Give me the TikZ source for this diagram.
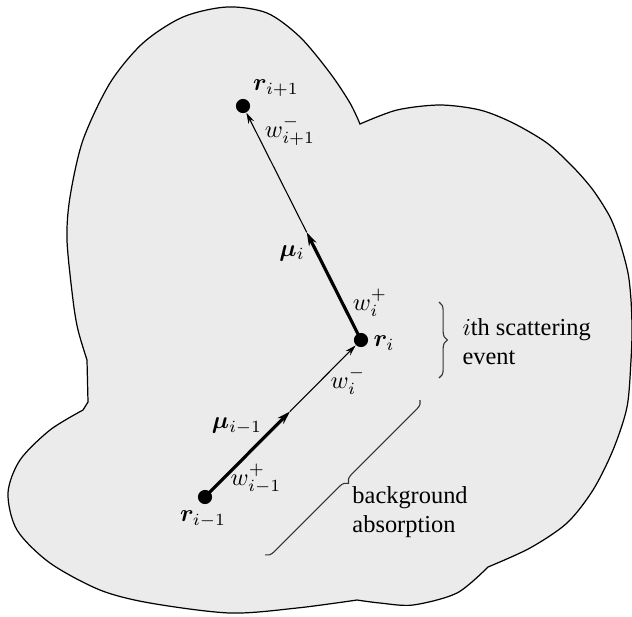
\documentclass[tikz,border=0pt]{standalone}
\usepackage{bm}
\usepackage{fontspec}
\setmainfont{Liberation Serif}
\usetikzlibrary{arrows.meta,calc,decorations.pathreplacing}

\begin{document}
\begin{tikzpicture}[x=0.41pt,y=-0.41pt]
	\tikzset{site/.style={circle,fill=black,minimum size=5.8pt,inner sep=0pt},
		heavy/.style={line width=1.3pt,-{Stealth[length=5.5pt,width=3.4pt]}},
		light/.style={line width=0.45pt,-{Stealth[length=4.5pt,width=2.6pt]}},
		brc/.style={decorate,decoration={brace,amplitude=3.4pt},line width=0.45pt,black!80},
		lbl/.style={inner sep=0pt},
		note/.style={align=left,anchor=west,inner sep=0pt}}
	\useasboundingbox (0,0) rectangle (632,616);
	% medium
	\draw[fill=black!8,line width=0.5pt]
		plot[smooth] coordinates {(360,124) (397,110) (440,105) (480,110) (513,123) (547,143) (573,167) (593,190) (610,217) (620,243) (628,273) (631,300) (632,330) (631,360) (627,407) (613,450) (593,490) (567,523) (530,548) (488,567)}
		-- plot[smooth] coordinates {(488,567) (457,593) (413,605) (380,603) (357,600)}
		-- plot[smooth] coordinates {(357,600) (297,608) (230,613) (150,603) (100,590) (50,563) (17,530) (8,493) (20,460) (50,430) (83,410)}
		-- (88,402) -- (87,360)
		-- plot[smooth] coordinates {(87,360) (78,330) (73,300) (67,240) (70,197) (83,140) (110,83) (143,43) (183,17) (227,7) (267,13) (300,37) (330,73) (350,103) (360,124)}
		-- cycle;
	% sites
	\node[site] (rp) at (243,106) {};
	\node[site] (ri) at (361,340) {};
	\node[site] (rm) at (205,497) {};
	\coordinate (tipm) at ($(rm)!0.545!(ri)$);
	\coordinate (tipi) at ($(ri)!0.46!(rp)$);
	% flight paths
	\draw[heavy] (rm.center) -- (tipm);
	\draw[light] (tipm) -- (ri);
	\draw[heavy] (ri.center) -- (tipi);
	\draw[light] (tipi) -- (rp);
	% labels
	\node[lbl] (lrp) at (276,88) {$\bm{r}_{i+1}$};
	\node[lbl] (lwp) at (290,131) {$w^-_{i+1}$};
	\node[lbl] (lmi) at (292,253) {$\bm{\mu}_i$};
	\node[lbl] (lwi) at (370,303) {$w^+_i$};
	\node[lbl] (lri) at (384,343) {$\bm{r}_i$};
	\node[lbl] (lwn) at (348,381) {$w^-_i$};
	\node[lbl] (lmm) at (237,426) {$\bm{\mu}_{i-1}$};
	\node[lbl] (lwm) at (256,479) {$w^+_{i-1}$};
	\node[lbl] (lrm) at (203,519) {$\bm{r}_{i-1}$};
	% braces
	\coordinate (sa) at (439,302);
	\coordinate (sb) at (439,378);
	\draw[brc] (sa) -- (sb);
	\node[note] (scat) at (462,342) {$i$th scattering\\event};
	\coordinate (ba) at (420,400);
	\coordinate (bb) at (265,555);
	\draw[brc] (ba) -- (bb);
	\node[note] (absn) at (352,512) {background\\absorption};
\end{tikzpicture}
\end{document}
